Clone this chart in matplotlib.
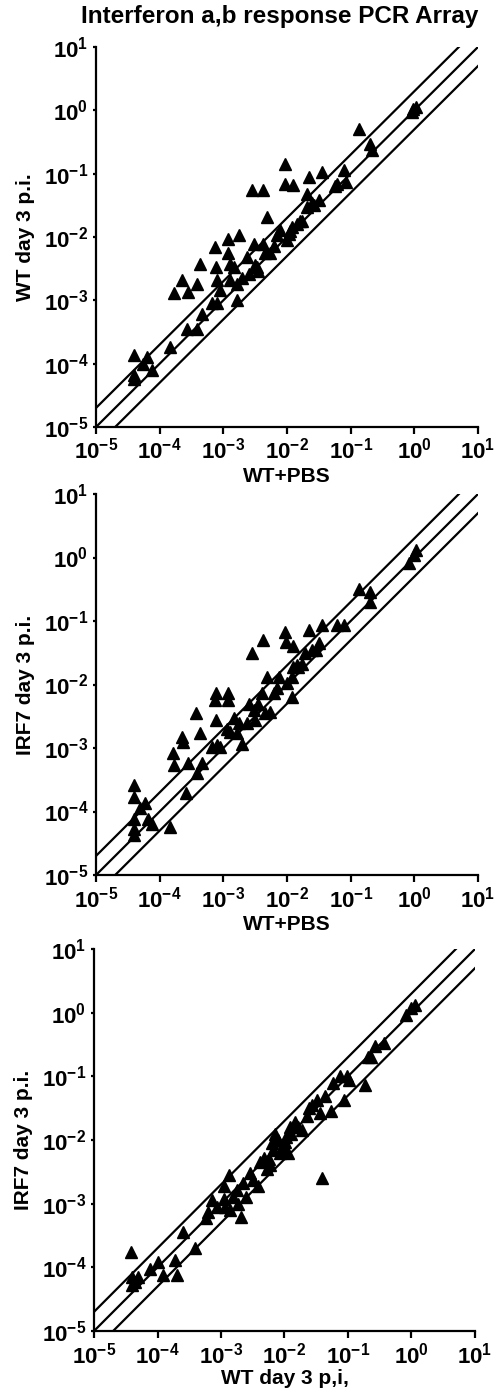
import numpy as np
import matplotlib
matplotlib.use("Agg")
import matplotlib.pyplot as plt

plt.rcParams['font.family'] = ['Liberation Sans', 'DejaVu Sans']
plt.rcParams['font.weight'] = 'bold'
plt.rcParams['mathtext.fontset'] = 'custom'
plt.rcParams['mathtext.rm'] = 'Liberation Sans:bold'
plt.rcParams['mathtext.bf'] = 'Liberation Sans:bold'
plt.rcParams['mathtext.it'] = 'Liberation Sans:bold'

# values, as log10 of the expression level
# panel 1: WT+PBS (x) vs WT day 3 p.i. (y)
p1_x = [-4.40, -4.41, -4.41, -4.26, -4.20, -4.12, -3.84, -3.78, -3.65, -3.55, -3.57, -3.42,
        -3.42, -3.37, -3.34, -3.13, -3.11, -3.10, -3.18, -3.10, -3.05, -2.92, -2.92, -2.89,
        -2.89, -2.84, -2.79, -2.76, -2.79, -2.63, -2.60, -2.55, -2.52, -2.47, -2.45, -2.37,
        -2.37, -2.34, -2.32, -2.26, -2.16, -2.11, -2.03, -2.03, -2.00, -1.97, -1.92, -1.90,
        -1.84, -1.76, -1.68, -1.68, -1.66, -1.61, -1.50, -1.45, -1.21, -1.11, -1.08, -0.87,
        -0.69, -0.66, -0.03, 0.02, -2.70, -2.50, -2.20, -1.95, -1.80, -1.58, -1.25, -0.02]
p1_y = [-3.87, -4.18, -4.24, -4.00, -3.89, -4.10, -3.74, -2.89, -2.68, -2.87, -3.45, -2.74,
        -3.45, -2.42, -3.21, -2.16, -2.47, -2.68, -3.05, -3.05, -2.84, -2.03, -2.26, -2.42,
        -2.68, -2.47, -2.74, -1.97, -3.00, -2.32, -2.58, -1.26, -2.11, -2.47, -2.53, -1.26,
        -2.11, -2.26, -1.68, -2.26, -1.97, -1.89, -0.84, -1.16, -2.05, -1.95, -1.84, -1.18,
        -1.79, -1.74, -1.32, -1.53, -1.05, -1.47, -1.42, -0.97, -1.16, -0.95, -1.13, -0.29,
        -0.53, -0.63, -0.03, 0.05, -2.65, -2.45, -2.15, -1.90, -1.75, -1.50, -1.20, 0.02]

# panel 2: WT+PBS (x) vs IRF7 day 3 p.i. (y)
p2_x = [-4.40, -4.40, -4.40, -4.40, -4.40, -4.31, -4.23, -4.18, -4.12, -3.84, -3.79, -3.77,
        -3.65, -3.63, -3.58, -3.55, -3.43, -3.42, -3.37, -3.34, -3.18, -3.13, -3.11, -3.11,
        -3.10, -3.05, -2.92, -2.92, -2.89, -2.84, -2.79, -2.76, -2.71, -2.63, -2.60, -2.55,
        -2.52, -2.50, -2.39, -2.37, -2.34, -2.32, -2.26, -2.21, -2.13, -2.03, -2.01, -2.00,
        -1.92, -1.90, -1.92, -1.90, -1.82, -1.76, -1.71, -1.66, -1.61, -1.50, -1.45, -1.21,
        -1.11, -0.87, -0.69, -0.69, -0.09, -0.01, 0.02, -2.95, -2.45, -2.15, -1.85, -1.55]
p2_y = [-3.58, -3.77, -4.11, -4.27, -4.37, -3.95, -3.87, -4.11, -4.19, -4.24, -3.08, -3.27,
        -2.82, -2.90, -3.71, -3.24, -2.45, -3.40, -2.77, -3.24, -2.98, -2.24, -2.14, -2.56,
        -2.96, -2.98, -2.14, -2.24, -2.74, -2.53, -2.77, -2.61, -2.93, -2.61, -2.30, -1.51,
        -2.40, -2.56, -2.14, -1.30, -2.45, -1.88, -2.43, -2.14, -1.88, -1.17, -1.33, -1.98,
        -1.88, -1.40, -2.19, -1.72, -1.72, -1.67, -1.51, -1.14, -1.46, -1.35, -1.06, -1.06,
        -1.06, -0.49, -0.54, -0.70, -0.08, 0.04, 0.12, -2.70, -2.30, -2.05, -1.70, -1.45]

# panel 3: WT day 3 p.i. (x) vs IRF7 day 3 p.i. (y)
p3_x = [-4.42, -4.40, -4.40, -4.35, -4.30, -4.12, -3.99, -3.91, -3.73, -3.70, -3.60, -3.41,
        -3.23, -3.20, -3.14, -3.07, -2.96, -2.96, -2.94, -2.88, -2.86, -2.81, -2.75, -2.73,
        -2.68, -2.65, -2.60, -2.54, -2.49, -2.41, -2.39, -2.33, -2.28, -2.23, -2.18, -2.15,
        -2.12, -2.07, -2.04, -1.99, -1.94, -1.91, -1.89, -1.83, -1.73, -1.65, -1.62, -1.57,
        -1.49, -1.44, -1.41, -1.36, -1.26, -1.23, -1.13, -1.07, -1.02, -0.98, -0.73, -0.68,
        -0.57, -0.44, -0.63, -0.08, 0.00, 0.06, -2.20, -2.10, -1.98, -2.02, -2.25, -1.78]
p3_y = [-3.76, -4.15, -4.28, -4.23, -4.15, -4.02, -3.91, -4.12, -3.89, -4.12, -3.44, -3.70,
        -3.23, -3.13, -2.94, -3.05, -2.73, -2.92, -3.05, -2.55, -3.10, -2.89, -2.79, -3.00,
        -3.21, -2.68, -2.89, -2.52, -2.63, -2.73, -2.34, -2.29, -2.45, -2.39, -2.16, -1.90,
        -2.00, -2.21, -2.11, -2.03, -2.21, -1.79, -1.90, -1.71, -1.84, -1.63, -1.50, -1.45,
        -1.37, -1.58, -2.60, -1.31, -1.55, -1.11, -1.00, -1.37, -1.00, -1.06, -1.13, -0.69,
        -0.53, -0.48, -0.69, -0.04, 0.07, 0.12, -2.05, -2.00, -1.95, -2.15, -2.30, -1.80]

panels = [(p1_x, p1_y, 'WT+PBS', 'WT day 3 p.i.'),
          (p2_x, p2_y, 'WT+PBS', 'IRF7 day 3 p.i.'),
          (p3_x, p3_y, 'WT day 3 p,i,', 'IRF7 day 3 p.i.')]

# fold-change guide lines
folds = [2.0, 1.0, 0.5]
decades = [-5, -4, -3, -2, -1, 0, 1]
tick_labels = [r'$10^{%d}$' % d for d in decades]

# axes boxes in figure fractions [left, bottom, width, height]
boxes = [[0.1909, 0.6937, 0.7594, 0.2726],
         [0.1909, 0.3723, 0.7594, 0.2733],
         [0.1869, 0.0452, 0.7574, 0.2740]]
xlabel_pad = [2, 2, 1]

fig = plt.figure(figsize=(5.03, 13.94), dpi=100)

for (px, py, xl, yl), box, lp in zip(panels, boxes, xlabel_pad):
    ax = fig.add_axes(box)
    ax.set_xscale('log')
    ax.set_yscale('log')
    ax.set_xlim(1e-5, 1e1)
    ax.set_ylim(1e-5, 1e1)

    xs = np.logspace(-6, 2, 50)
    for f in folds:
        ax.plot(xs, f * xs, color='black', lw=1.6, zorder=2)

    ax.plot(10.0 ** np.array(px), 10.0 ** np.array(py), linestyle='none', marker='^',
            ms=8, color='black', mec='black', zorder=3, clip_on=False)

    ax.spines['top'].set_visible(False)
    ax.spines['right'].set_visible(False)
    for s in ['left', 'bottom']:
        ax.spines[s].set_linewidth(1.6)

    ax.xaxis.set_major_locator(matplotlib.ticker.FixedLocator([10.0 ** d for d in decades]))
    ax.yaxis.set_major_locator(matplotlib.ticker.FixedLocator([10.0 ** d for d in decades]))
    ax.xaxis.set_minor_locator(matplotlib.ticker.NullLocator())
    ax.yaxis.set_minor_locator(matplotlib.ticker.NullLocator())
    ax.set_xticklabels(tick_labels)
    ax.set_yticklabels(tick_labels)
    ax.tick_params(axis='x', direction='out', length=5, width=1.6, labelsize=16, pad=3)
    ax.tick_params(axis='y', direction='out', length=2.5, width=1.6, labelsize=16, pad=3)

    ax.set_xlabel(xl, fontsize=15, fontweight='bold', labelpad=lp)
    ax.set_ylabel(yl, fontsize=15, fontweight='bold', labelpad=6)

fig.text(0.557, 0.988, 'Interferon a,b response PCR Array', ha='center', va='center',
         fontsize=17.5, fontweight='bold')

fig.savefig('out.png', dpi=100)
